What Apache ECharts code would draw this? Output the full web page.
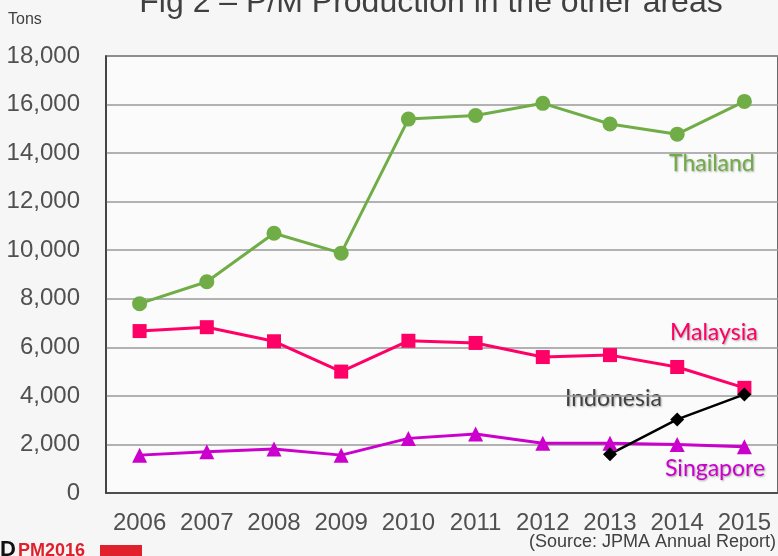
<!DOCTYPE html>
<html>
<head>
<meta charset="utf-8">
<script src="https://cdn.jsdelivr.net/npm/echarts@6/dist/echarts.min.js"></script>
<style>
html,body{margin:0;padding:0;background:#f6f6f6;}
#c{width:778px;height:556px;}
</style>
</head>
<body>
<div id="c"></div>
<script>
const years = ['2006','2007','2008','2009','2010','2011','2012','2013','2014','2015'];
const thailand = [7800, 8700, 10700, 9880, 15400, 15550, 16050, 15200, 14780, 16130];
const malaysia = [6670, 6830, 6250, 5000, 6270, 6180, 5600, 5680, 5190, 4330];
const indonesia = [null, null, null, null, null, null, null, 1600, 3030, 4060];
const singapore = [1560, 1700, 1810, 1560, 2250, 2430, 2050, 2050, 2000, 1910];
const yTicks = [0, 2000, 4000, 6000, 8000, 10000, 12000, 14000, 16000, 18000];

const chart = echarts.init(document.getElementById('c'), null, {renderer:'canvas'});
const labelFont = 'Lato, "Open Sans", sans-serif';
const shadow = {textShadowColor:'rgba(0,0,0,0.35)', textShadowBlur:2, textShadowOffsetX:1, textShadowOffsetY:1};
chart.setOption({
  backgroundColor:'#f6f6f6',
  animation:false,
  grid:{left:106, right:-1, top:56, bottom:63, show:true, backgroundColor:'#fbfbfb', borderColor:'#3a3a3a', borderWidth:1.5},
  xAxis:{
    type:'category', data:years, boundaryGap:true,
    axisLine:{show:true, lineStyle:{color:'#3a3a3a', width:1.5}},
    axisTick:{show:false},
    axisLabel:{interval:0, fontFamily:'"Liberation Sans", Arial, sans-serif', fontSize:24, color:'#505050', margin:18},
    splitLine:{show:false}
  },
  yAxis:{
    type:'value', min:yTicks[0], max:yTicks[yTicks.length-1], interval:yTicks[1]-yTicks[0],
    axisLine:{show:true, lineStyle:{color:'#3a3a3a', width:1.5}},
    axisTick:{show:false},
    axisLabel:{fontFamily:'"Liberation Sans", Arial, sans-serif', fontSize:24, color:'#505050', margin:26,
      formatter:v=>v.toLocaleString('en-US')},
    splitLine:{show:true, lineStyle:{color:'#9a9a9a', width:1.5}}
  },
  series:[
    {name:'Thailand', type:'line', data:thailand, symbol:'circle', symbolSize:15,
      lineStyle:{color:'#70AD47', width:3}, itemStyle:{color:'#70AD47'}},
    {name:'Malaysia', type:'line', data:malaysia, symbol:'rect', symbolSize:14,
      lineStyle:{color:'#FF0066', width:3}, itemStyle:{color:'#FF0066'}},
    {name:'Singapore', type:'line', data:singapore, symbol:'triangle', symbolSize:15,
      lineStyle:{color:'#CC00CC', width:3}, itemStyle:{color:'#CC00CC'}},
    {name:'Indonesia', type:'line', data:indonesia, symbol:'diamond', symbolSize:14,
      lineStyle:{color:'#000000', width:2.5}, itemStyle:{color:'#000000'}}
  ],
  graphic:[
    {type:'text', x:431, y:-13, style:{text:'Fig 2 \u2013 P/M Production in the other areas', font:'32px "Liberation Sans", Arial, sans-serif', fill:'#404040', textAlign:'center'}},
    {type:'text', x:8, y:12, style:{text:'Tons', font:'16px "Liberation Sans", Arial, sans-serif', fill:'#404040'}},
    {type:'text', x:669, y:152, style:Object.assign({text:'Thailand', font:'23px '+labelFont, fill:'#70AD47'}, shadow)},
    {type:'text', x:670, y:321, style:Object.assign({text:'Malaysia', font:'23px '+labelFont, fill:'#FF0066'}, shadow)},
    {type:'text', x:565, y:387, style:Object.assign({text:'Indonesia', font:'23px '+labelFont, fill:'#404040'}, shadow)},
    {type:'text', x:665, y:457, style:Object.assign({text:'Singapore', font:'23px '+labelFont, fill:'#CC00CC'}, shadow)},
    {type:'text', right:2, y:533, style:{text:'(Source: JPMA Annual Report)', font:'18px "Liberation Sans", Arial, sans-serif', fill:'#404040'}},
    {type:'text', x:0, y:539, style:{text:'D', font:'bold 22px "Liberation Sans", Arial, sans-serif', fill:'#111'}},
    {type:'text', x:18, y:542, style:{text:'PM2016', font:'bold 18px "Liberation Sans", Arial, sans-serif', fill:'#e0202a'}},
    {type:'rect', shape:{x:100, y:545, width:42, height:12}, style:{fill:'#e0202a'}}
  ]
});
</script>
</body>
</html>
